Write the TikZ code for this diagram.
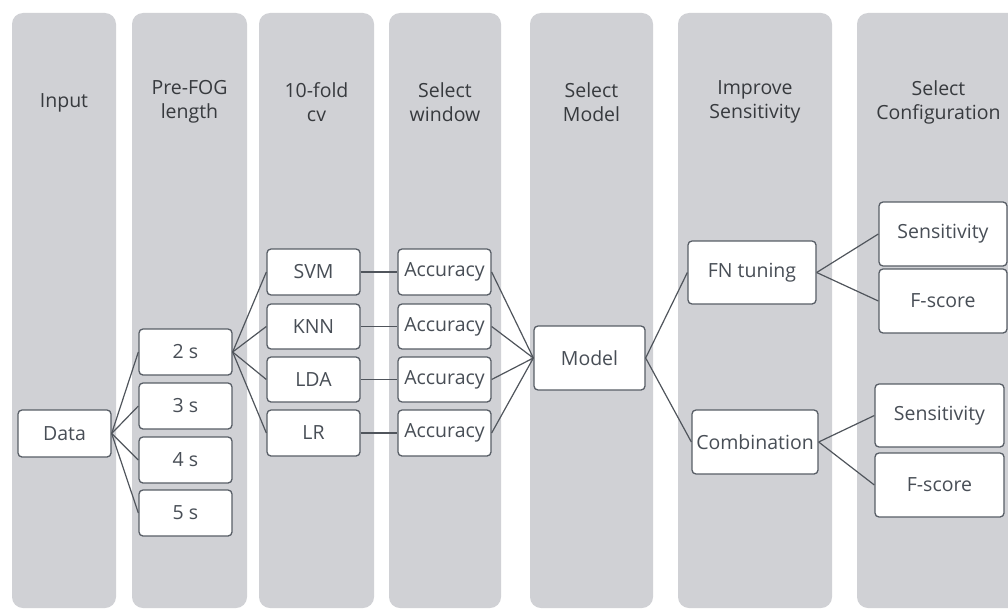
\documentclass[tikz,border=0pt]{standalone}
\usepackage{fontspec}
\setmainfont{Open Sans}
\definecolor{colgray}{RGB}{208,209,213}
\definecolor{boxline}{RGB}{88,94,102}
\definecolor{linkline}{RGB}{80,85,92}
\definecolor{hdrtext}{RGB}{55,58,62}
\definecolor{boxtext}{RGB}{72,78,86}
\begin{document}
\begin{tikzpicture}[x=1pt,y=-1pt,
  col/.style={fill=colgray, rounded corners=11pt},
  hdr/.style={font=\fontsize{19.5}{24}\selectfont, text=hdrtext, align=center, inner sep=0pt},
  box/.style={draw=boxline, line width=1.3pt, fill=white, rounded corners=4pt,
    font=\fontsize{19.5}{24}\selectfont, text=boxtext, inner sep=0pt},
  link/.style={draw=linkline, line width=1.2pt}
]
\path[use as bounding box, clip] (0,0) rectangle (1008,610);
\fill[white] (0,0) rectangle (1008,610);
% columns
\fill[col] (12,13) rectangle (116,608);
\fill[col] (132,13) rectangle (247,608);
\fill[col] (259,13) rectangle (374,608);
\fill[col] (389,13) rectangle (501,608);
\fill[col] (530,13) rectangle (653,608);
\fill[col] (678,13) rectangle (832,608);
\fill[col] (857,13) rectangle (1022,608);
% headers
\node[hdr] (hInput) at (64,103) {Input};
\node[hdr] (hPre) at (189.5,102) {Pre-FOG\\length};
\node[hdr] (hCv) at (316.5,102) {10-fold\\cv};
\node[hdr] (hWin) at (445,102) {Select\\window};
\node[hdr] (hModel) at (591.5,102) {Select\\Model};
\node[hdr] (hImp) at (755,102) {Improve\\Sensitivity};
\node[hdr] (hConf) at (938.5,102) {Select\\Configuration};
% nodes
\node[box, minimum width=93pt, minimum height=47pt] (data) at (64.5,433.5) {Data};
\node[box, minimum width=93pt, minimum height=46pt] (s2) at (185.5,352) {2 s};
\node[box, minimum width=93pt, minimum height=46pt] (s3) at (185.5,406) {3 s};
\node[box, minimum width=93pt, minimum height=46pt] (s4) at (185.5,460) {4 s};
\node[box, minimum width=93pt, minimum height=46pt] (s5) at (185.5,513) {5 s};
\node[box, minimum width=93pt, minimum height=46pt] (svm) at (313.5,272) {SVM};
\node[box, minimum width=93pt, minimum height=45pt] (knn) at (313.5,326.5) {KNN};
\node[box, minimum width=93pt, minimum height=45pt] (lda) at (313.5,379.5) {LDA};
\node[box, minimum width=93pt, minimum height=46pt] (lr) at (313.5,433) {LR};
\node[box, minimum width=93pt, minimum height=46pt] (a1) at (444.5,272) {Accuracy};
\node[box, minimum width=93pt, minimum height=45pt] (a2) at (444.5,326.5) {Accuracy};
\node[box, minimum width=93pt, minimum height=45pt] (a3) at (444.5,379.5) {Accuracy};
\node[box, minimum width=93pt, minimum height=46pt] (a4) at (444.5,433) {Accuracy};
\node[box, minimum width=111pt, minimum height=64pt] (model) at (589.5,358) {Model};
\node[box, minimum width=128pt, minimum height=63pt] (fn) at (752,272.5) {FN tuning};
\node[box, minimum width=126pt, minimum height=64pt] (comb) at (755,442) {Combination};
\node[box, minimum width=128pt, minimum height=64pt] (sens1) at (943,234) {Sensitivity};
\node[box, minimum width=128pt, minimum height=64pt] (f1) at (943,301) {F-score};
\node[box, minimum width=129pt, minimum height=63pt] (sens2) at (939.5,415.5) {Sensitivity};
\node[box, minimum width=129pt, minimum height=64pt] (f2) at (939.5,485) {F-score};
% connectors
\foreach \t in {s2,s3,s4,s5} \draw[link] (data.east) -- (\t.west);
\foreach \t in {svm,knn,lda,lr} \draw[link] (s2.east) -- (\t.west);
\draw[link] (svm.east) -- (a1.west);
\draw[link] (knn.east) -- (a2.west);
\draw[link] (lda.east) -- (a3.west);
\draw[link] (lr.east) -- (a4.west);
\foreach \t in {a1,a2,a3,a4} \draw[link] (\t.east) -- (model.west);
\draw[link] (model.east) -- (fn.west);
\draw[link] (model.east) -- (comb.west);
\draw[link] (fn.east) -- (sens1.west);
\draw[link] (fn.east) -- (f1.west);
\draw[link] (comb.east) -- (sens2.west);
\draw[link] (comb.east) -- (f2.west);
\end{tikzpicture}
\end{document}
